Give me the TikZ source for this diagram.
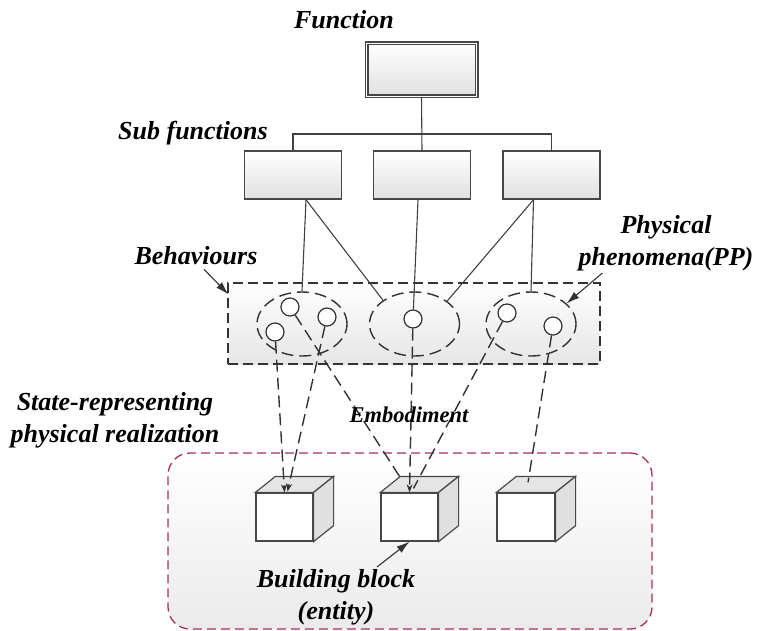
\documentclass[tikz,border=0pt]{standalone}
\usepackage{fontspec}
\setmainfont{Liberation Serif}
\usetikzlibrary{calc,shapes.geometric,arrows.meta}
\definecolor{blockred}{RGB}{170,50,80}
\def\cubefaces#1{%
  \draw[cubeline, fill=black!10] (#1.north west) -- ($(#1.north west)+(20,-16)$) -- ($(#1.north east)+(20,-16)$) -- (#1.north east) -- cycle;
  \draw[cubeline, fill=black!12] (#1.north east) -- ($(#1.north east)+(20,-16)$) -- ($(#1.south east)+(20,-16)$) -- (#1.south east) -- cycle;}

\begin{document}
\begin{tikzpicture}[x=1pt, y=-1pt,
    lbl/.style={font=\fontsize{26}{32}\selectfont\bfseries\itshape, align=center, inner sep=0},
    fbox/.style={draw=black!72, line width=1.4pt, top color=white, bottom color=black!12, minimum width=97, minimum height=48},
    tree/.style={draw=black!75, line width=1.1pt},
    oval/.style={ellipse, draw=black!80, line width=1.4pt, dash pattern=on 12pt off 6pt, minimum width=90, minimum height=64},
    pp/.style={circle, draw=black!80, line width=1.2pt, fill=white, minimum size=18, inner sep=0},
    cubeline/.style={draw=black!72, line width=1.2pt},
    link/.style={draw=black!80, line width=1.4pt, dash pattern=on 12pt off 6pt},
    note/.style={draw=black!80, line width=1.1pt, -{Latex[length=13pt,width=8pt]}}]
  %%%%% START %%%%%
  \useasboundingbox (0,0) rectangle (757,631);

  % grouping frames
  \node[draw=blockred, line width=1.3pt, dash pattern=on 9pt off 5pt, rounded corners=22, top color=white, bottom color=black!8, minimum width=484, minimum height=176] (frame) at (410,541) {};
  \node[draw=black!80, line width=1.3pt, dash pattern=on 10pt off 5pt, top color=white, bottom color=black!10, minimum width=372, minimum height=81] (brect) at (414,323.5) {};

  % behaviours and physical phenomena
  \node[oval] (eL) at (302,324) {};
  \node[oval] (eM) at (414.5,324) {};
  \node[oval] (eR) at (531,324) {};
  \node[pp] (p1) at (275,332) {};
  \node[pp] (p2) at (290,307) {};
  \node[pp] (p3) at (327,317) {};
  \node[pp] (p4) at (413,319) {};
  \node[pp] (p5) at (507,313) {};
  \node[pp] (p6) at (553,326) {};

  % building blocks
  \node[cubeline, fill=white, minimum width=57, minimum height=48, inner sep=0] (bL) at (284.5,517) {};
  \node[cubeline, fill=white, minimum width=57, minimum height=48, inner sep=0] (bM) at (409.5,517) {};
  \node[cubeline, fill=white, minimum width=58, minimum height=48, inner sep=0] (bR) at (526,517) {};
  \cubefaces{bL}
  \cubefaces{bM}
  \cubefaces{bR}

  % function tree
  \node[draw=black!72, line width=1.2pt, double=white, double distance=1.6pt, top color=white, bottom color=black!12, minimum width=110, minimum height=53] (fn) at (421.5,70) {};
  \node[fbox] (sL) at (293,175) {};
  \node[fbox] (sM) at (422,175) {};
  \node[fbox] (sR) at (551.5,175) {};
  \coordinate (hub) at (421.5,134);
  \draw[tree] (fn.south) -- (sM.north);
  \draw[tree] (sL.north) |- (hub) -| (sR.north);

  % sub functions to behaviours
  \coordinate (footL) at ($(sL.south)+(13,0)$);
  \coordinate (footM) at ($(sM.south)+(-4,0)$);
  \coordinate (footR) at ($(sR.south)+(-18,0)$);
  \draw[tree] (footL) -- (eL.north);
  \draw[tree] (footL) -- (eM.143);
  \draw[tree] (footM) -- (p4);
  \draw[tree] (footR) -- (eM.35);
  \draw[tree] (footR) -- (eR.north);

  % embodiment
  \draw[link, -{Stealth[length=8pt,width=6pt]}] (p1) -- (bL.north);
  \draw[link, -{Stealth[length=8pt,width=6pt]}] (p3) -- ($(bL.north)+(3,-1)$);
  \draw[link] (p2) -- ($(bM.north)+(-8,-13)$);
  \draw[link, -{Stealth[length=8pt,width=6pt]}] (p4) -- (bM.north);
  \draw[link] (p5) -- ($(bM.north)+(4,-4)$);
  \draw[link] (p6) -- ($(bR.north)+(2,-10)$);

  % labels
  \node[lbl] (fnlbl) at (344,20) {Function};
  \node[lbl] (sublbl) at (193,133) {Sub functions};
  \node[lbl] (bhvlbl) at (196,256) {Behaviours};
  \node[lbl] (pplbl) at (666,243) {Physical\\phenomena(PP)};
  \node[lbl] (statelbl) at (115,420) {State-representing\\physical realization};
  \node[lbl, font=\fontsize{22.5}{26}\selectfont\bfseries\itshape] (emblbl) at (409,415) {Embodiment};
  \node[lbl] (bblbl) at (336,597) {Building block\\(entity)};

  \draw[note] ($(bhvlbl.south)+(8,4)$) -- ($(brect.north west)+(1,12)$);
  \draw[note] ($(pplbl.south west)+(24,2)$) -- (eR.30);
  \draw[note] ($(bblbl.north)+(41,-2)$) -- (bM.south);
  %%%%% END %%%%%
\end{tikzpicture}
\end{document}
